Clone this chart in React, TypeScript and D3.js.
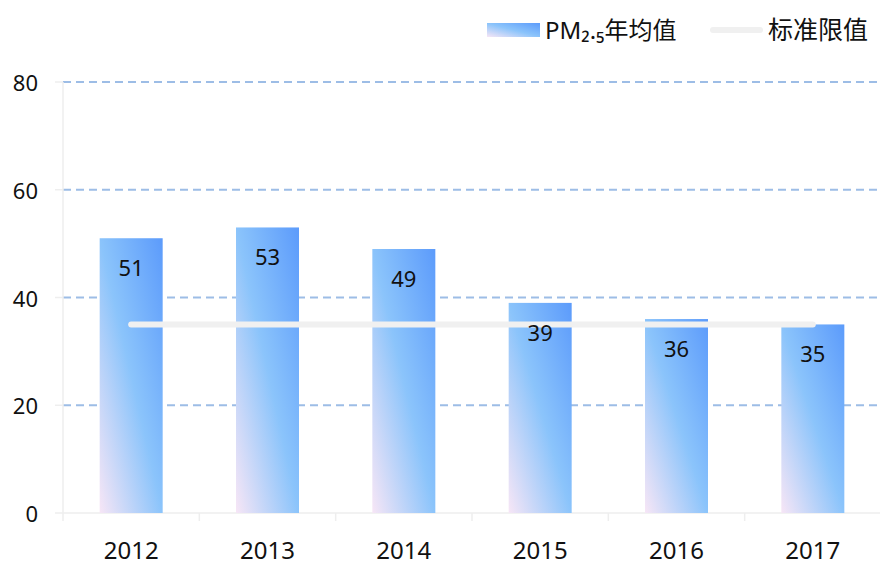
import React from "react";
import * as d3 from "d3";

const years = ["2012", "2013", "2014", "2015", "2016", "2017"];
const pmValues = [51, 53, 49, 39, 36, 35];
const limitValues = [35, 35, 35, 35, 35, 35];
const yTicks = [0, 20, 40, 60, 80];

const width = 880;
const height = 563;
const left = 63;
const right = 881;
const top = 82;
const bottom = 513;
const font = "'Noto Sans', 'Noto Sans CJK SC', sans-serif";

export default function App() {
  const x = d3.scaleBand<string>().domain(years).range([left, right]);
  const y = d3.scaleLinear().domain([0, 80]).range([bottom, top]);
  const barW = 63;

  const line = d3
    .line<number>()
    .x((_, i) => (x(years[i]) as number) + x.bandwidth() / 2)
    .y((d) => y(d));

  return (
    <svg
      width={width}
      height={height}
      style={{ position: "absolute", left: 0, top: 0, background: "#fff" }}
    >
      <defs>
        <linearGradient id="barGrad" x1="0" y1="1" x2="1" y2="0">
          <stop offset="0" stopColor="#f7e6f6" />
          <stop offset="0.5" stopColor="#8bc4fb" />
          <stop offset="1" stopColor="#5c9bfb" />
        </linearGradient>
      </defs>

      {/* grid */}
      {yTicks.slice(1).map((t) => (
        <g key={t}>
          <line x1={55} x2={left} y1={y(t)} y2={y(t)} stroke="#eeeeee" strokeWidth={1.5} />
          <line
            x1={left}
            x2={right}
            y1={y(t)}
            y2={y(t)}
            stroke="#9dbde6"
            strokeWidth={2}
            strokeDasharray="8 5"
          />
        </g>
      ))}

      {/* axes */}
      <line x1={left} x2={left} y1={top} y2={bottom} stroke="#eeeeee" strokeWidth={1.5} />
      <line x1={55} x2={right} y1={bottom} y2={bottom} stroke="#eeeeee" strokeWidth={1.5} />
      {years.map((yr) => (
        <line
          key={yr}
          x1={x(yr) as number}
          x2={x(yr) as number}
          y1={bottom}
          y2={bottom + 8}
          stroke="#eeeeee"
          strokeWidth={1.5}
        />
      ))}

      {yTicks.map((t) => (
        <text
          key={t}
          x={38}
          y={y(t)}
          textAnchor="end"
          dominantBaseline="central"
          fontFamily={font}
          fontSize={22}
          fill="#111"
        >
          {t}
        </text>
      ))}

      {years.map((yr) => (
        <text
          key={yr}
          x={(x(yr) as number) + x.bandwidth() / 2}
          y={549}
          textAnchor="middle"
          dominantBaseline="central"
          fontFamily={font}
          fontSize={24}
          fill="#111"
        >
          {yr}
        </text>
      ))}

      {/* bars */}
      {pmValues.map((v, i) => {
        const cx = (x(years[i]) as number) + x.bandwidth() / 2;
        return (
          <rect
            key={i}
            x={cx - barW / 2}
            y={y(v)}
            width={barW}
            height={bottom - y(v)}
            fill="url(#barGrad)"
          />
        );
      })}

      {/* standard line */}
      <path
        d={line(limitValues) || ""}
        fill="none"
        stroke="#f0f0f0"
        strokeWidth={6}
        strokeLinecap="round"
      />

      {/* labels */}
      {pmValues.map((v, i) => {
        const cx = (x(years[i]) as number) + x.bandwidth() / 2;
        return (
          <text
            key={i}
            x={cx}
            y={y(v) + 29}
            textAnchor="middle"
            dominantBaseline="central"
            fontFamily={font}
            fontSize={22}
            fill="#111"
          >
            {v}
          </text>
        );
      })}

      {/* legend */}
      <rect x={487} y={23} width={53} height={14} fill="url(#barGrad)" />
      <text x={545} y={29} dominantBaseline="central" fontFamily={font} fontSize={24} fill="#111">
        PM₂.₅年均值
      </text>
      <line
        x1={713}
        x2={760}
        y1={30}
        y2={30}
        stroke="#f0f0f0"
        strokeWidth={6}
        strokeLinecap="round"
      />
      <text x={768} y={29} dominantBaseline="central" fontFamily={font} fontSize={25} fill="#111">
        标准限值
      </text>
    </svg>
  );
}
